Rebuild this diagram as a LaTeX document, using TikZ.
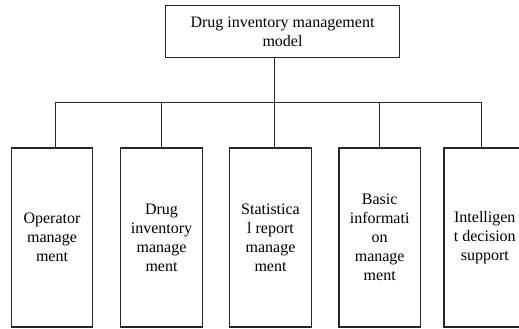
\documentclass[tikz,border=0pt]{standalone}
\usepackage{fontspec}
\setmainfont{Liberation Serif}
\begin{document}
\begin{tikzpicture}[x=1pt,y=-1pt,
  every node/.style={font=\fontsize{16}{19}\selectfont},
  line/.style={line width=1.3pt, draw=black!85},
  topbox/.style={draw=black!85, line width=1.3pt, minimum width=234pt, minimum height=52pt, align=center, inner sep=0pt},
  subbox/.style={draw=black!85, line width=1.3pt, minimum width=81.5pt, minimum height=179pt, align=center, inner sep=0pt}]
\useasboundingbox (0,0) rectangle (519,329);
\node[topbox] (top) at (282.5,31.7) {Drug inventory management\\model};
\node[subbox] (b1) at (52,237.6) {Operator\\manage\\ment};
\node[subbox] (b2) at (161.5,237.6) {Drug\\inventory\\manage\\ment};
\node[subbox] (b3) at (270.5,237.6) {Statistica\\l report\\manage\\ment};
\node[subbox] (b4) at (379.7,237.6) {Basic\\informati\\on\\manage\\ment};
\node[subbox] (b5) at (484.8,237.6) {Intelligen\\t decision\\support};
\coordinate (j) at (274.3,102.7);
\draw[line] ([xshift=-8.2pt]top.south) -- (j);
\draw[line] ([xshift=3.7pt]b1.north) |- (j);
\draw[line] (b2.north) |- (j);
\draw[line] ([xshift=3.8pt]b3.north) -- (j);
\draw[line] (b4.north) |- (j);
\draw[line] ([xshift=-3.1pt]b5.north) |- (j);
\end{tikzpicture}
\end{document}
